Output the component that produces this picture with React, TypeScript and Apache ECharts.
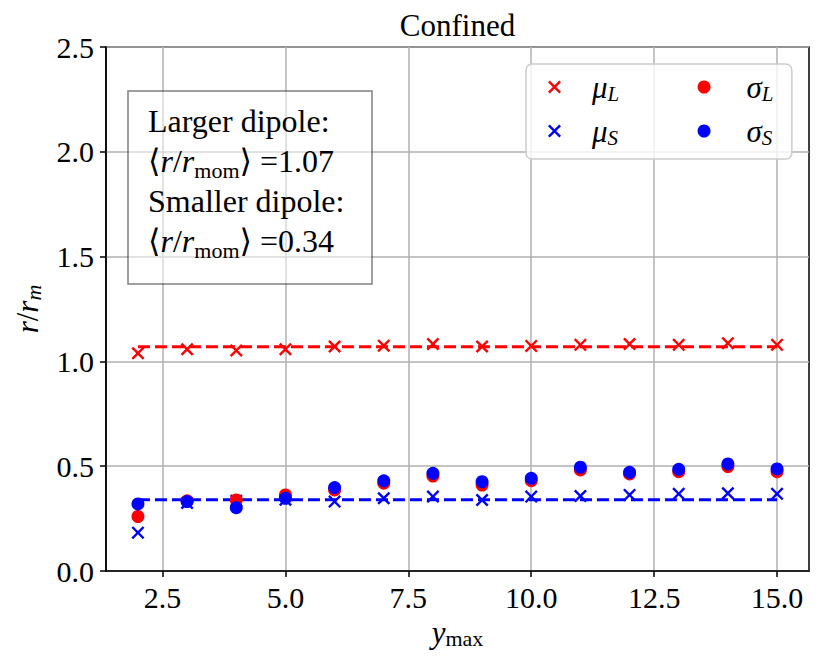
import React, { useEffect, useRef } from "react";
import * as echarts from "echarts";

const yMaxValues = [2, 3, 4, 5, 6, 7, 8, 9, 10, 11, 12, 13, 14, 15];
const muL = [1.039, 1.058, 1.052, 1.058, 1.071, 1.075, 1.083, 1.071, 1.074, 1.079, 1.083, 1.079, 1.087, 1.079];
const muS = [0.183, 0.325, 0.335, 0.34, 0.331, 0.347, 0.355, 0.339, 0.355, 0.358, 0.363, 0.368, 0.371, 0.368];
const sigmaL = [0.26, 0.335, 0.339, 0.363, 0.387, 0.419, 0.453, 0.41, 0.431, 0.482, 0.463, 0.474, 0.498, 0.474];
const sigmaS = [0.32, 0.331, 0.302, 0.347, 0.398, 0.43, 0.466, 0.426, 0.442, 0.495, 0.471, 0.485, 0.511, 0.487];
const meanLarger = 1.07;
const meanSmaller = 0.34;
const xTicks = [2.5, 5.0, 7.5, 10.0, 12.5, 15.0];
const yTicks = [0.0, 0.5, 1.0, 1.5, 2.0, 2.5];
const titleText = "Confined";

const SERIF = "'Liberation Serif', 'DejaVu Serif', serif";
const XSYM =
  "path://M0,1.3L1.3,0L5,3.7L8.7,0L10,1.3L6.3,5L10,8.7L8.7,10L5,6.3L1.3,10L0,8.7L3.7,5Z";

const pairs = (vals: number[]) => yMaxValues.map((x, i) => [x, vals[i]]);

export default function App() {
  const ref = useRef<HTMLDivElement>(null);
  useEffect(() => {
    document.body.style.margin = "0";
    const chart = echarts.init(ref.current!, null, { renderer: "svg" });
    const legendNames: Record<string, { g: string; s: string; col: number }> = {
      muL: { g: "μ", s: "L", col: 1 },
      sigmaL: { g: "σ", s: "L", col: 2 },
      muS: { g: "μ", s: "S", col: 1 },
      sigmaS: { g: "σ", s: "S", col: 2 },
    };
    const span = yMaxValues[yMaxValues.length - 1] - yMaxValues[0];
    const xMin = yMaxValues[0] - 0.05 * span;
    const xMax = yMaxValues[yMaxValues.length - 1] + 0.05 * span;
    const boxText = [
      "{t|Larger dipole:}",
      `{t|⟨}{i|r}{t|/}{i|r}{sub|mom}{t|⟩ =${meanLarger.toFixed(2)}}`,
      "{t|Smaller dipole:}",
      `{t|⟨}{i|r}{t|/}{i|r}{sub|mom}{t|⟩ =${meanSmaller.toFixed(2)}}`,
    ].join("\n");
    chart.setOption({
      animation: false,
      backgroundColor: "#ffffff",
      grid: {
        left: 106,
        right: 21,
        top: 47,
        bottom: 92,
        show: true,
        borderColor: "#000",
        borderWidth: 1.5,
        backgroundColor: "transparent",
      },
      xAxis: {
        type: "value",
        min: xMin,
        max: xMax,
        name: "{i|y}{s|max}",
        nameLocation: "middle",
        nameGap: 44,
        nameTextStyle: {
          rich: {
            i: { fontFamily: SERIF, fontStyle: "italic", fontSize: 31, color: "#000", lineHeight: 34 },
            s: { fontFamily: SERIF, fontSize: 22, color: "#000", lineHeight: 20, verticalAlign: "bottom" },
          },
        },
        axisLine: { show: true, onZero: false, lineStyle: { color: "#000", width: 1.5 } },
        axisTick: { show: true, length: 6, lineStyle: { color: "#000", width: 1.5 }, customValues: xTicks },
        axisLabel: {
          customValues: xTicks,
          formatter: (v: number) => v.toFixed(1),
          fontFamily: SERIF,
          fontSize: 30,
          color: "#000",
          margin: 11,
        },
        splitLine: { show: true, lineStyle: { color: "#b0b0b0", width: 1.5 } },
      },
      yAxis: {
        type: "value",
        min: yTicks[0],
        max: yTicks[yTicks.length - 1],
        interval: 0.5,
        name: "{i|r}{n|/}{i|r}{s|m}",
        nameLocation: "middle",
        nameRotate: 90,
        nameGap: 62,
        nameTextStyle: {
          rich: {
            i: { fontFamily: SERIF, fontStyle: "italic", fontSize: 31, color: "#000", lineHeight: 34 },
            n: { fontFamily: SERIF, fontSize: 31, color: "#000", lineHeight: 34 },
            s: { fontFamily: SERIF, fontStyle: "italic", fontSize: 22, color: "#000", lineHeight: 20, verticalAlign: "bottom" },
          },
        },
        axisLine: { show: true, onZero: false, lineStyle: { color: "#000", width: 1.5 } },
        axisTick: { show: true, length: 6, lineStyle: { color: "#000", width: 1.5 } },
        axisLabel: {
          formatter: (v: number) => v.toFixed(1),
          fontFamily: SERIF,
          fontSize: 30,
          color: "#000",
          margin: 12,
        },
        splitLine: { show: true, lineStyle: { color: "#b0b0b0", width: 1.5 } },
      },
      legend: {
        left: 526,
        top: 64,
        width: 240,
        orient: "horizontal",
        itemGap: 10,
        itemWidth: 13,
        itemHeight: 13,
        padding: [6, 10, 11, 22],
        backgroundColor: "rgba(255,255,255,0.8)",
        borderColor: "#cccccc",
        borderWidth: 1.5,
        borderRadius: 6,
        data: [
          { name: "muL", icon: XSYM },
          { name: "sigmaL", icon: "circle" },
          { name: "muS", icon: XSYM },
          { name: "sigmaS", icon: "circle" },
        ],
        formatter: (name: string) => {
          const d = legendNames[name];
          return d.col === 1 ? `{g1|${d.g}}{s1|${d.s}}` : `{g2|${d.g}}{s2|${d.s}}`;
        },
        textStyle: {
          rich: {
            g1: { fontFamily: SERIF, fontStyle: "italic", fontSize: 31, color: "#000", lineHeight: 34, height: 34, padding: [0, 0, 0, 26] },
            s1: { fontFamily: SERIF, fontStyle: "italic", fontSize: 21, color: "#000", lineHeight: 20, verticalAlign: "bottom", width: 80 },
            g2: { fontFamily: SERIF, fontStyle: "italic", fontSize: 31, color: "#000", lineHeight: 34, height: 34, padding: [0, 0, 0, 31] },
            s2: { fontFamily: SERIF, fontStyle: "italic", fontSize: 21, color: "#000", lineHeight: 20, verticalAlign: "bottom", width: 20 },
          },
        },
      },
      graphic: [
        {
          type: "text",
          x: 457.5,
          y: 25,
          style: {
            text: titleText,
            font: `31px ${SERIF}`,
            fill: "#000",
            align: "center",
            verticalAlign: "middle",
          },
        },
        {
          type: "rect",
          z: 100,
          shape: { x: 128, y: 91, width: 244, height: 193 },
          style: { fill: "rgba(255,255,255,0.5)", stroke: "rgba(0,0,0,0.5)", lineWidth: 1.5 },
        },
        {
          type: "text",
          z: 101,
          x: 148,
          y: 101,
          style: {
            text: boxText,
            fill: "#000",
            align: "left",
            verticalAlign: "top",
            rich: {
              t: { fontFamily: SERIF, fontSize: 32, lineHeight: 40, fill: "#000" },
              i: { fontFamily: SERIF, fontStyle: "italic", fontSize: 32, lineHeight: 40, fill: "#000" },
              sub: { fontFamily: SERIF, fontSize: 22, lineHeight: 22, verticalAlign: "bottom", fill: "#000" },
            },
          },
        },
      ],
      series: [
        {
          name: "meanL",
          type: "line",
          data: [
            [yMaxValues[0], meanLarger],
            [yMaxValues[yMaxValues.length - 1], meanLarger],
          ],
          showSymbol: false,
          symbol: "none",
          lineStyle: { color: "#ff0000", width: 3, type: [12, 5] },
          z: 1,
          silent: true,
        },
        {
          name: "meanS",
          type: "line",
          data: [
            [yMaxValues[0], meanSmaller],
            [yMaxValues[yMaxValues.length - 1], meanSmaller],
          ],
          showSymbol: false,
          symbol: "none",
          lineStyle: { color: "#0000ff", width: 3, type: [12, 5] },
          z: 1,
          silent: true,
        },
        {
          name: "muL",
          type: "scatter",
          data: pairs(muL),
          symbol: XSYM,
          symbolSize: 13,
          itemStyle: { color: "#ff0000", opacity: 1 },
          z: 2,
        },
        {
          name: "muS",
          type: "scatter",
          data: pairs(muS),
          symbol: XSYM,
          symbolSize: 13,
          itemStyle: { color: "#0000ff", opacity: 1 },
          z: 3,
        },
        {
          name: "sigmaL",
          type: "scatter",
          data: pairs(sigmaL),
          symbol: "circle",
          symbolSize: 13,
          itemStyle: { color: "#ff0000", opacity: 1 },
          z: 4,
        },
        {
          name: "sigmaS",
          type: "scatter",
          data: pairs(sigmaS),
          symbol: "circle",
          symbolSize: 13,
          itemStyle: { color: "#0000ff", opacity: 1 },
          z: 5,
        },
      ],
    });
    return () => chart.dispose();
  }, []);
  return <div ref={ref} style={{ width: 830, height: 663 }} />;
}
